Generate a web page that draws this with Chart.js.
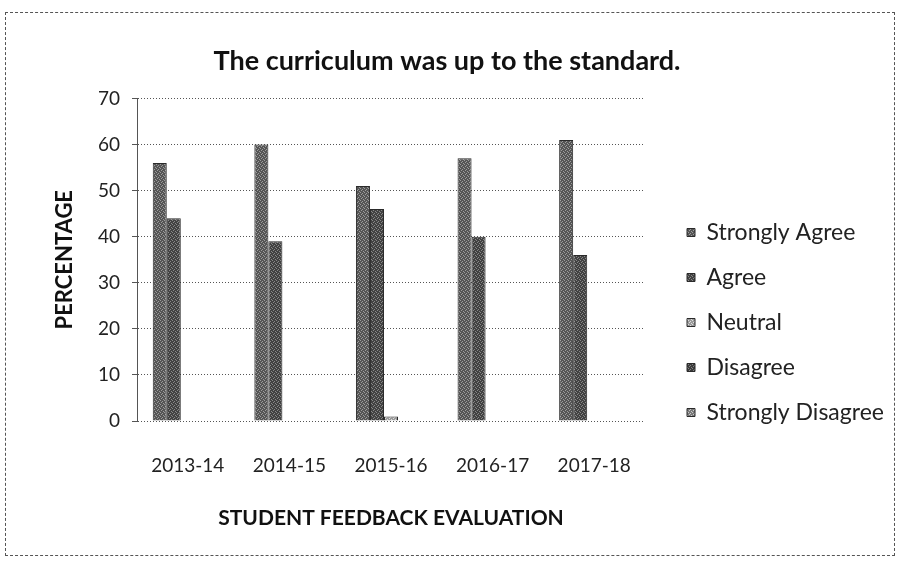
<!DOCTYPE html>
<html>
<head>
<meta charset="utf-8">
<script src="https://cdn.jsdelivr.net/npm/chart.js@4.4.1/dist/chart.umd.min.js"></script>
<style>
  html, body { margin: 0; padding: 0; background: #fff; }
  #frame { position: absolute; left: 5px; top: 12px; width: 888px; height: 542px; border: 1px dashed #555; }
  #wrap { position: absolute; left: 0; top: 0; width: 901px; height: 566px; }
</style>
</head>
<body>
<div id="frame"></div>
<div id="wrap"><canvas id="feedback-chart" width="901" height="566"></canvas></div>
<script>
const years = ['2013-14', '2014-15', '2015-16', '2016-17', '2017-18'];
const stronglyAgree = [56, 60, 51, 57, 61];
const agree = [44, 39, 46, 40, 36];
const neutral = [0, 0, 1, 0, 0];
const disagree = [0, 0, 0, 0, 0];
const stronglyDisagree = [0, 0, 0, 0, 0];
const yTicks = [0, 10, 20, 30, 40, 50, 60, 70];

const FONT = 'Lato, "Open Sans", sans-serif';

// grainy fill, a bit like the photocopied original
function grain(dark, light) {
  const c = document.createElement('canvas');
  c.width = 4;
  c.height = 4;
  const g = c.getContext('2d');
  g.fillStyle = dark;
  g.fillRect(0, 0, 4, 4);
  g.fillStyle = light;
  g.fillRect(0, 0, 1, 1);
  g.fillRect(2, 1, 1, 1);
  g.fillRect(1, 2, 1, 1);
  g.fillRect(3, 3, 1, 1);
  return g.createPattern(c, 'repeat');
}

// legend sits in the chart area box, move it out to the right side
const legendShift = {
  id: 'legendShift',
  afterLayout(chart) {
    const lg = chart.legend;
    lg.left = 665;
    lg.right = lg.left + lg.width;
    lg.top = 199;
    lg.bottom = lg.top + 400;
  },
};

const ctx = document.getElementById('feedback-chart').getContext('2d');

// eslint-disable-next-line no-undef,no-unused-vars
const chart = new Chart(ctx, {
  type: 'bar',
  data: {
    labels: years,
    datasets: [
      { label: 'Strongly Agree', data: stronglyAgree, backgroundColor: grain('#555555', '#9c9c9c') },
      { label: 'Agree', data: agree, backgroundColor: grain('#424242', '#888888') },
      { label: 'Neutral', data: neutral, backgroundColor: grain('#9a9a9a', '#dcdcdc') },
      { label: 'Disagree', data: disagree, backgroundColor: grain('#3c3c3c', '#828282') },
      { label: 'Strongly Disagree', data: stronglyDisagree, backgroundColor: grain('#7a7a7a', '#c8c8c8') },
    ].map((d) => Object.assign(d, {
      borderColor: '#2a2a2a',
      borderWidth: 1,
      barPercentage: 1,
      categoryPercentage: 0.69,
      yAxisID: 'y',
    })),
  },
  options: {
    responsive: false,
    animation: false,
    layout: { padding: { left: 0, right: 7, top: 0, bottom: 35 } },
    plugins: {
      title: {
        display: true,
        text: 'The curriculum was up to the standard.',
        color: '#111',
        font: { family: FONT, size: 27, weight: 'bold' },
        padding: { top: 45, bottom: 21 },
      },
      legend: {
        position: 'chartArea',
        align: 'start',
        labels: {
          color: '#222',
          font: { family: FONT, size: 23 },
          boxWidth: 8,
          boxHeight: 8,
          padding: 22,
        },
      },
      tooltip: { enabled: false },
    },
    scales: {
      x: {
        grid: { display: false, drawTicks: false },
        border: { display: false },
        ticks: { color: '#222', font: { family: FONT, size: 19 }, padding: 33 },
        title: {
          display: true,
          text: 'STUDENT FEEDBACK EVALUATION',
          color: '#111',
          font: { family: FONT, size: 21, weight: 'bold' },
          padding: { top: -4, bottom: 0 },
        },
      },
      y: {
        min: 0,
        max: 70,
        afterBuildTicks: (scale) => { scale.ticks = yTicks.map((v) => ({ value: v })); },
        afterFit: (scale) => { scale.width = 137; },
        grid: { color: '#555', lineWidth: 1, drawTicks: true, tickLength: 5, tickColor: '#555' },
        border: { color: '#555', dash: [1, 2] },
        ticks: { color: '#222', font: { family: FONT, size: 19 }, padding: 12 },
        title: {
          display: true,
          text: 'PERCENTAGE',
          color: '#111',
          font: { family: FONT, size: 22, weight: 'bold' },
          padding: { top: 52, bottom: 0 },
        },
      },
      // empty right-hand axis, only keeps the room where the legend goes
      side: {
        type: 'linear',
        position: 'right',
        grid: { display: false },
        border: { display: false },
        ticks: { display: false },
        afterFit: (scale) => { scale.width = 249; },
      },
    },
  },
  plugins: [legendShift],
});
</script>
</body>
</html>
